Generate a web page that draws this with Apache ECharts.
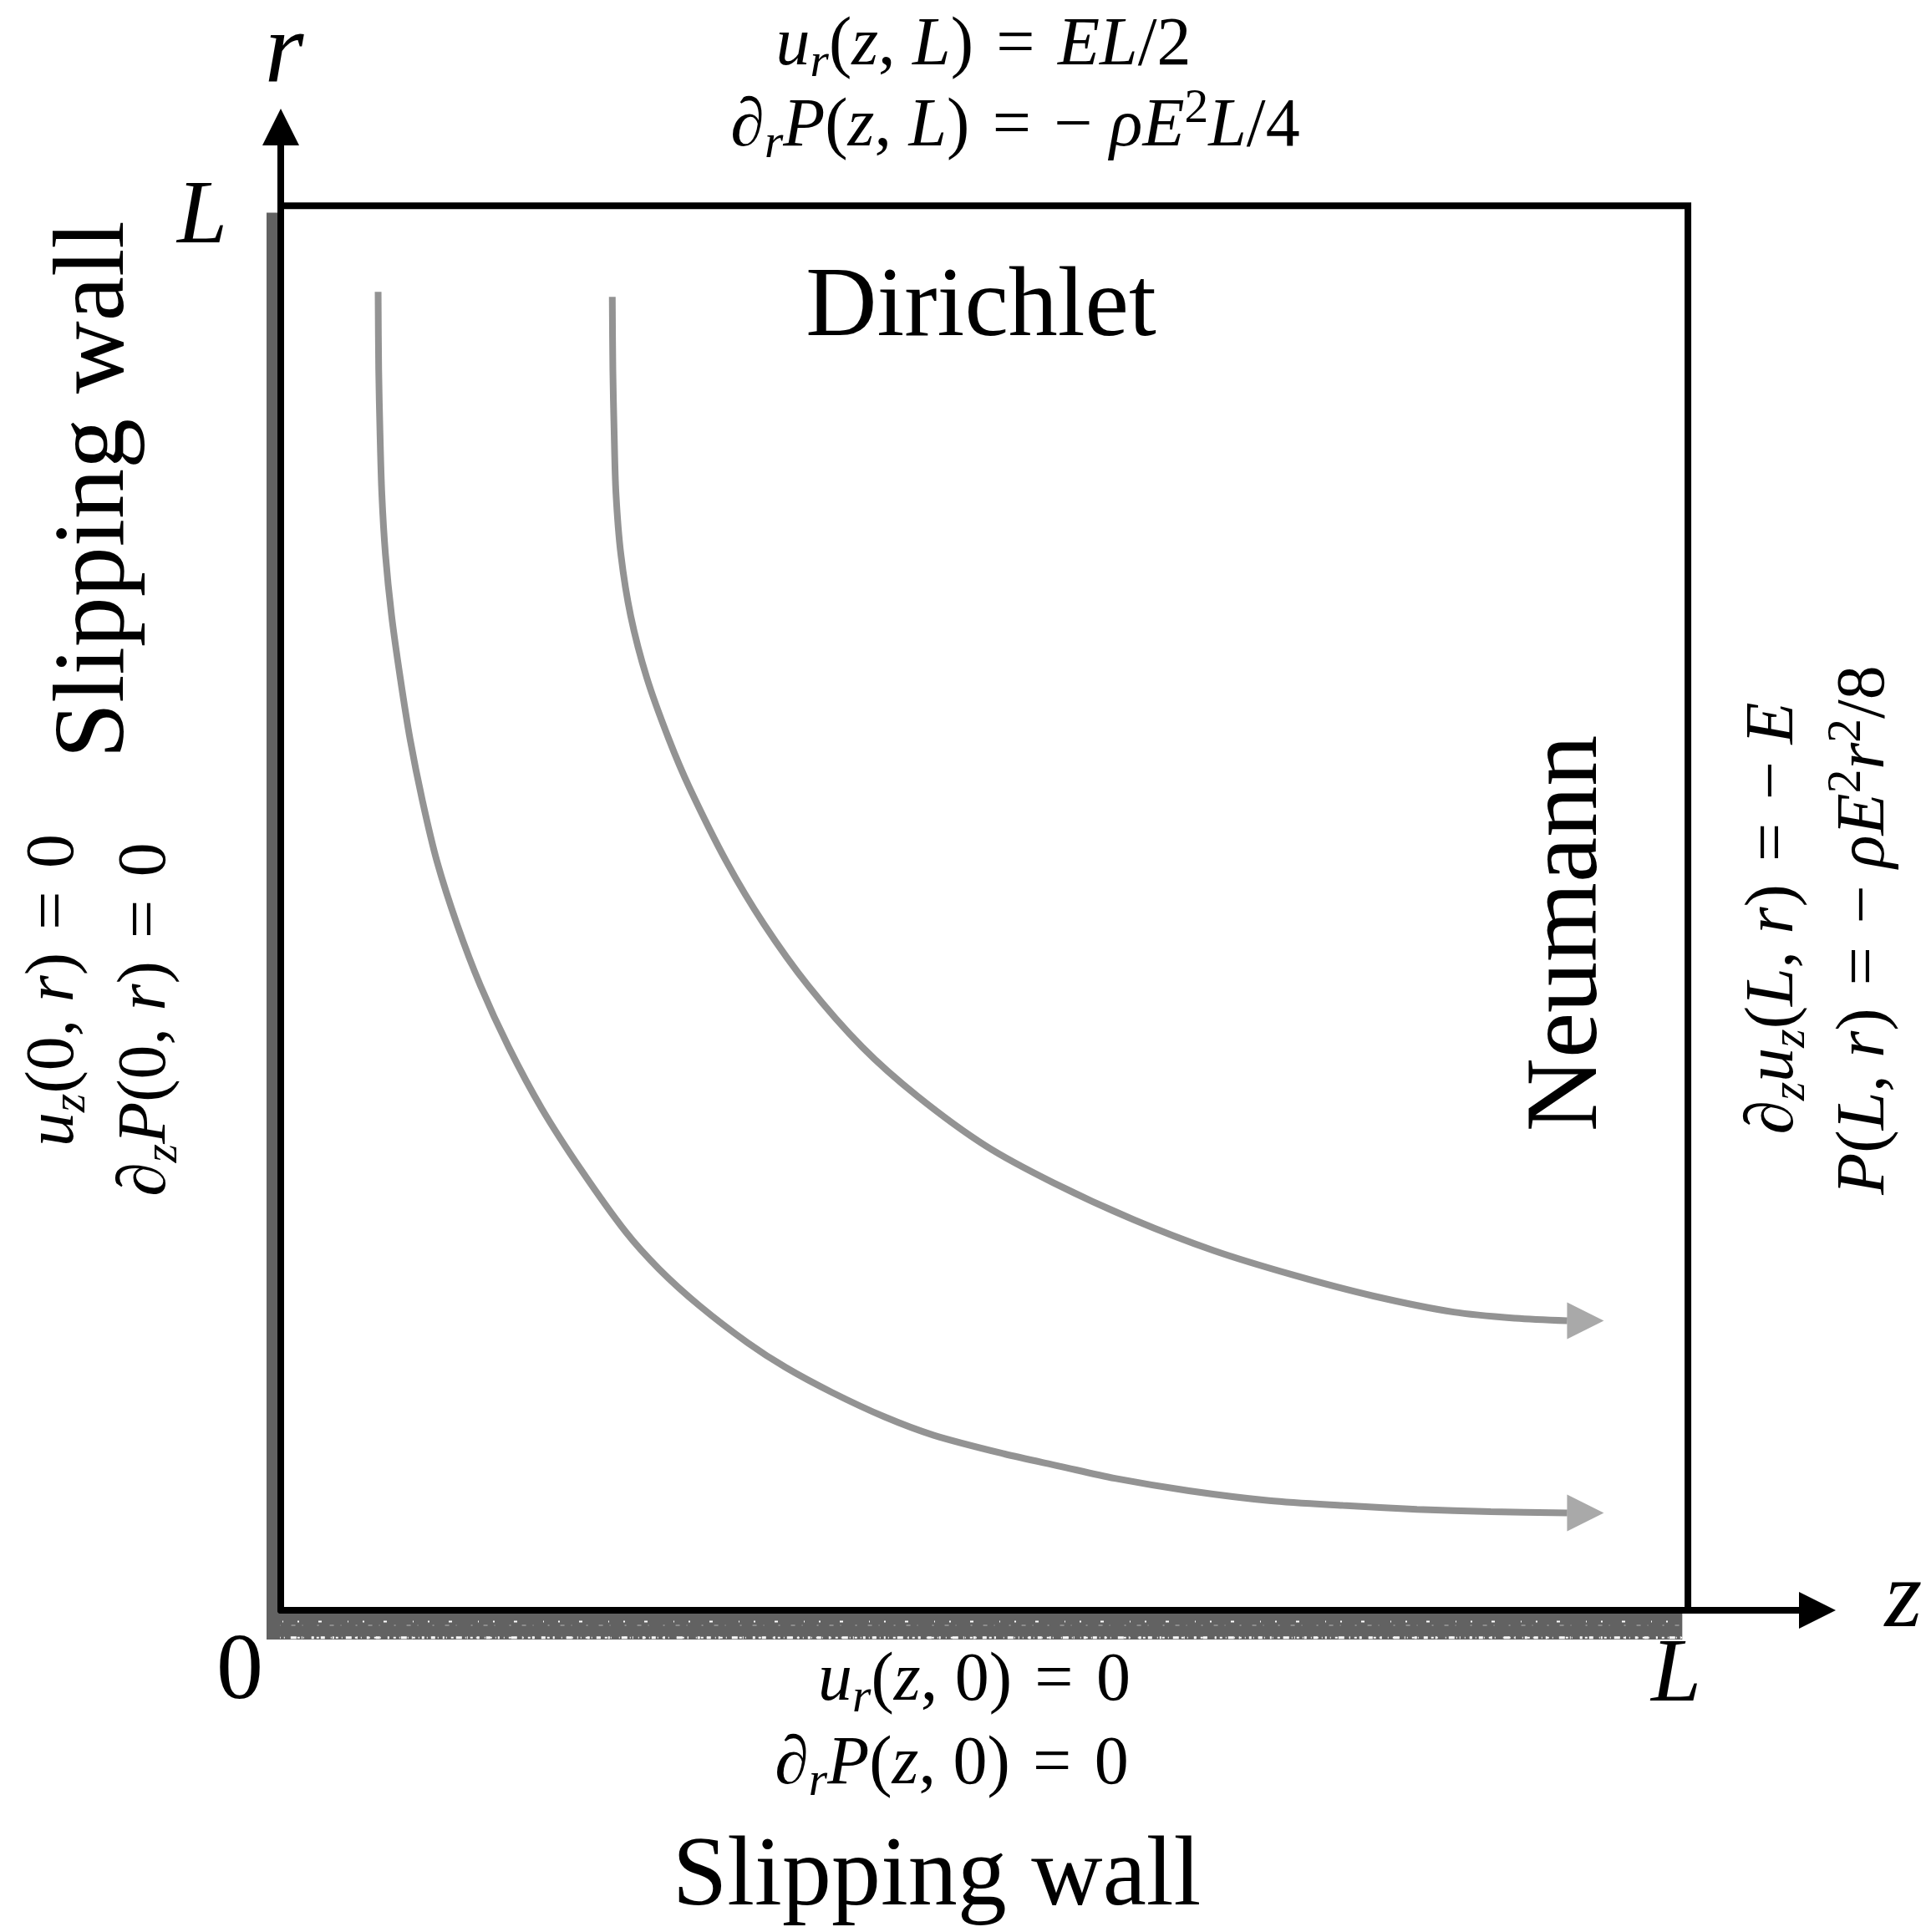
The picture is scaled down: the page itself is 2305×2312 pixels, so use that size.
<!DOCTYPE html>
<html>
<head>
<meta charset="utf-8">
<title>Boundary conditions</title>
<script src="https://cdn.jsdelivr.net/npm/echarts@6/dist/echarts.min.js"></script>
<style>
html, body { margin: 0; padding: 0; background: #fff; }
#chart { width: 2305px; height: 2312px; }
</style>
</head>
<body>
<div id="chart"></div>
<script>
// streamlines, in units of L (z, r)
var streamAz = [0.0692, 0.0696, 0.0705, 0.0718, 0.0744, 0.0788, 0.0849, 0.0919, 0.1007, 0.1112, 0.1252, 0.1419, 0.1620, 0.1856, 0.2137, 0.2452,
                0.2688, 0.2977, 0.3319, 0.3590, 0.3914, 0.4291, 0.4641, 0.5140, 0.5534, 0.5928, 0.6454, 0.7023, 0.7548, 0.8074, 0.8599, 0.9142];
var streamAr = [0.9386, 0.8833, 0.8395, 0.7956, 0.7518, 0.7079, 0.6640, 0.6202, 0.5763, 0.5325, 0.4886, 0.4447, 0.4009, 0.3570, 0.3132, 0.2693,
                0.2430, 0.2167, 0.1904, 0.1728, 0.1553, 0.1377, 0.1246, 0.1114, 0.1026, 0.0939, 0.0851, 0.0781, 0.0746, 0.0719, 0.0702, 0.0693];
var streamBz = [0.2356, 0.2360, 0.2369, 0.2382, 0.2417, 0.2487, 0.2601, 0.2758, 0.2907, 0.3170, 0.3433, 0.3748,
                0.4133, 0.4527, 0.5009, 0.5490, 0.6060, 0.6629, 0.7198, 0.7767, 0.8336, 0.8774, 0.9142];
var streamBr = [0.9351, 0.8833, 0.8395, 0.7956, 0.7518, 0.7079, 0.6640, 0.6202, 0.5851, 0.5325, 0.4886, 0.4447,
                0.4009, 0.3658, 0.3307, 0.3044, 0.2781, 0.2561, 0.2386, 0.2237, 0.2123, 0.2079, 0.2061];
// arrow heads at the end of each streamline
var headZ = [0.9272, 0.9272];
var headR = [0.0693, 0.2061];
// domain box (top and right sides), the other two are the axes
var boxZ = [0, 1, 1];
var boxR = [1, 1, 0];
// slipping wall drawn along z = 0 and r = 0, mostly outside the box
var wallZ = [-0.0083, -0.0083, 0.996];
var wallR = [0.995, -0.0107, -0.0107];
var wallOuterZ = [-0.0172, -0.0172, 0.996];
var wallOuterR = [0.995, -0.0195, -0.0195];
var wallMidZ = [-0.006, -0.006, 0.996];
var wallMidR = [0.995, -0.008, -0.008];

var zip = function(a, b) {
    return a.map(function(v, i) { return [v, b[i]]; });
};

var serif = '"Liberation Serif", "DejaVu Serif", serif';

// rich styles for the formulas: i = italic, n = upright, s = subscript, p = superscript
var mathRich = function(F) {
    return {
        i: {fontFamily: serif, fontStyle: 'italic', fontSize: F, lineHeight: F * 1.2, fill: '#000'},
        n: {fontFamily: serif, fontSize: F, lineHeight: F * 1.2, fill: '#000'},
        s: {fontFamily: serif, fontStyle: 'italic', fontSize: F * 0.7, lineHeight: F * 0.5, verticalAlign: 'bottom', fill: '#000'},
        p: {fontFamily: serif, fontSize: F * 0.7, lineHeight: F * 0.58, verticalAlign: 'top', fill: '#000'}
    };
};

var label = function(txt, x, y, size, italic, rot) {
    return {
        type: 'text', x: x, y: y, rotation: rot ? Math.PI / 2 : 0,
        style: {
            text: txt, fill: '#000', fontFamily: serif, fontSize: size,
            fontStyle: italic ? 'italic' : 'normal',
            align: 'center', verticalAlign: 'middle'
        }
    };
};

var formula = function(txt, x, y, F, rot) {
    return {
        type: 'text', x: x, y: y, rotation: rot ? Math.PI / 2 : 0,
        style: {
            text: txt, fill: '#000', fontFamily: serif, fontSize: F,
            align: 'center', verticalAlign: 'middle', rich: mathRich(F)
        }
    };
};

var F = 82;
var EQ = '\u2004=\u2004';   // a bit wider than a normal space, like TeX
var wallLine = function(z, r, color, width, dash) {
    return {
        type: 'line', data: zip(z, r), symbol: 'none', clip: false, z: 1, silent: true,
        lineStyle: {color: color, width: width, type: dash || 'solid', join: 'miter'}
    };
};

var chart = echarts.init(document.getElementById('chart'));
chart.setOption({
    backgroundColor: '#fff',
    animation: false,
    grid: {left: 336, top: 152, width: 1839, height: 1775},
    xAxis: {
        type: 'value', min: 0, max: 1.092, z: 5,
        axisLine: {show: true, symbol: ['none', 'triangle'], symbolSize: [44, 44], lineStyle: {color: '#000', width: 8}},
        axisTick: {show: false}, axisLabel: {show: false}, splitLine: {show: false}
    },
    yAxis: {
        type: 'value', min: 0, max: 1.056, z: 5,
        axisLine: {show: true, symbol: ['none', 'triangle'], symbolSize: [44, 44], lineStyle: {color: '#000', width: 8}},
        axisTick: {show: false}, axisLabel: {show: false}, splitLine: {show: false}
    },
    series: [
        // slipping wall, rough grey band
        wallLine(wallZ, wallR, '#626262', 34),
        wallLine(wallOuterZ, wallOuterR, '#fff', 3, [5, 9, 2, 14, 7, 6, 1, 11, 3, 8]),
        wallLine(wallOuterZ, wallOuterR, '#fff', 2, [1, 5, 3, 4, 1, 9]),
        wallLine(wallMidZ, wallMidR, '#fff', 2, [2, 23, 4, 31, 1, 17]),
        wallLine(wallZ, wallR, '#8d8d8d', 2, [2, 13, 5, 8, 1, 17]),
        {   // box
            type: 'line', data: zip(boxZ, boxR), symbol: 'none', clip: false, z: 5, silent: true,
            lineStyle: {color: '#000', width: 8, join: 'miter'}
        },
        {
            type: 'line', data: zip(streamAz, streamAr), symbol: 'none', smooth: 0.3, z: 3,
            lineStyle: {color: '#939393', width: 8}
        },
        {
            type: 'line', data: zip(streamBz, streamBr), symbol: 'none', smooth: 0.3, z: 3,
            lineStyle: {color: '#939393', width: 8}
        },
        {
            type: 'scatter', data: zip(headZ, headR), symbol: 'triangle', symbolRotate: -90,
            symbolSize: 44, z: 3, itemStyle: {color: '#939393'}
        }
    ],
    graphic: [
        label('r', 340, 66, 120, true),
        label('z', 2278, 1916, 115, true),
        label('L', 242, 262, 108, true),
        label('0', 287, 2003, 112, false),
        label('L', 2006, 2007, 108, true),
        label('Dirichlet', 1174, 370, 118, false),
        label('Neumann', 1878, 1117, 122, false, true),
        label('Slipping wall', 115, 586, 120, false, true),
        label('Slipping wall', 1121, 2248, 118, false),
        formula('{i|u}{s|r}{n|(}{i|z}{n|, }{i|L}{n|)' + EQ + '}{i|EL}{n|/2}', 1177, 55, F),
        formula('{i|∂}{s|r}{i|P}{n|(}{i|z}{n|, }{i|L}{n|)' + EQ + '− }{i|ρE}{p|2}{i|L}{n|/4}', 1215, 152, F),
        formula('{i|u}{s|r}{n|(}{i|z}{n|, 0)' + EQ + '0}', 1166, 2012, F),
        formula('{i|∂}{s|r}{i|P}{n|(}{i|z}{n|, 0)' + EQ + '0}', 1139, 2112, F),
        formula('{i|u}{s|z}{n|(0, }{i|r}{n|)' + EQ + '0}', 65, 1185, F, true),
        formula('{i|∂}{s|z}{i|P}{n|(0, }{i|r}{n|)' + EQ + '0}', 175, 1220, F, true),
        formula('{i|∂}{s|z}{i|u}{s|z}{n|(}{i|L}{n|, }{i|r}{n|)' + EQ + '− }{i|E}', 2123, 1099, F, true),
        formula('{i|P}{n|(}{i|L}{n|, }{i|r}{n|)' + EQ + '− }{i|ρE}{p|2}{i|r}{p|2}{n|/8}', 2232, 1113, F, true)
    ]
});
</script>
</body>
</html>
